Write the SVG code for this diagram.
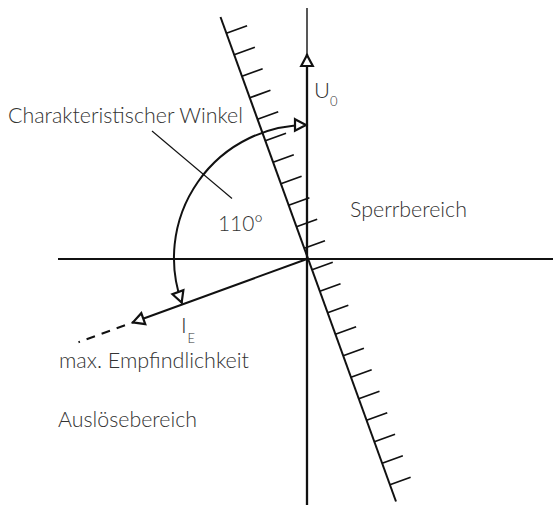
<svg xmlns="http://www.w3.org/2000/svg" width="553" height="505" viewBox="0 0 553 505">
<style>
  .ln { fill: none; stroke: #111; stroke-linecap: butt; }
  .ax { stroke-width: 2; }
  .thin { stroke-width: 1.1; }
  .tk { stroke-width: 1.8; }
  .lbl { font-family: Lato, "Open Sans", "DejaVu Sans", sans-serif; font-weight: 300; fill: #333; font-size: 22px; }
  .sub { font-size: 13px; }
</style>
<defs>
  <marker id="tri" markerUnits="userSpaceOnUse" markerWidth="28" markerHeight="28" viewBox="-20 -14 28 28" refX="0" refY="0" orient="auto" overflow="visible">
    <path d="M-12,-5.8 L-1,0 L-12,5.8 Z" fill="#fff" stroke="#111" stroke-width="2.2" stroke-linejoin="miter"/>
  </marker>
  <marker id="triS" markerUnits="userSpaceOnUse" markerWidth="28" markerHeight="28" viewBox="-20 -14 28 28" refX="0" refY="0" orient="auto-start-reverse" overflow="visible">
    <path d="M-12,-5.8 L-1,0 L-12,5.8 Z" fill="#fff" stroke="#111" stroke-width="2.2" stroke-linejoin="miter"/>
  </marker>
</defs>
<rect width="553" height="505" fill="#fff"/>

<g id="connectors">
  <path id="axis-h" class="ln ax" d="M58,259 H553"/>
  <path id="axis-v-top" class="ln" stroke-width="1.4" d="M307,64 V8"/>
  <path id="axis-v" class="ln" stroke-width="2.3" d="M307,505 V54" marker-end="url(#tri)"/>
  <path id="boundary" class="ln ax" d="M220.5,17 L396,501.5"/>
  <path id="hatch" class="ln tk" d="M226.39,33.25 l20.7,-7.5 M234.17,54.75 l20.7,-7.5 M241.96,76.25 l20.7,-7.5 M249.75,97.75 l20.7,-7.5 M257.54,119.25 l20.7,-7.5 M265.33,140.75 l20.7,-7.5 M273.11,162.25 l20.7,-7.5 M280.9,183.75 l20.7,-7.5 M288.69,205.25 l20.7,-7.5 M296.48,226.75 l20.7,-7.5 M304.27,248.25 l20.7,-7.5 M312.05,269.75 l20.7,-7.5 M319.84,291.25 l20.7,-7.5 M327.63,312.75 l20.7,-7.5 M335.42,334.25 l20.7,-7.5 M343.21,355.75 l20.7,-7.5 M350.99,377.25 l20.7,-7.5 M358.78,398.75 l20.7,-7.5 M366.57,420.25 l20.7,-7.5 M374.36,441.75 l20.7,-7.5 M382.15,463.25 l20.7,-7.5 M389.93,484.75 l20.7,-7.5"/>
  <path id="ie" class="ln ax" d="M307,259 L132,322.7" marker-end="url(#tri)"/>
  <path id="ie-ext" class="ln ax" stroke-dasharray="8.9 7.1" d="M125,325.2 L78.5,342.2"/>
  <path id="arc" class="ln ax" d="M307,125 A133,133 0 0 0 182,303.5" marker-start="url(#triS)" marker-end="url(#tri)"/>
  <path id="leader" class="ln thin" d="M152,131 L232,198.5"/>
</g>

<g id="label-winkel"><text class="lbl" x="8" y="123" textLength="235" lengthAdjust="spacingAndGlyphs">Charakteristischer Winkel</text></g>
<g id="label-u0"><text class="lbl" x="314" y="98">U<tspan class="sub" x="330" y="106">0</tspan></text></g>
<g id="label-sperr"><text class="lbl" x="350" y="216.5" textLength="117" lengthAdjust="spacingAndGlyphs">Sperrbereich</text></g>
<g id="label-angle"><text class="lbl" x="218" y="231" textLength="45" lengthAdjust="spacingAndGlyphs">110°</text></g>
<g id="label-ie"><text class="lbl" x="181" y="333">I<tspan class="sub" x="187.5" y="342.5">E</tspan></text></g>
<g id="label-max"><text class="lbl" x="59" y="368" textLength="190" lengthAdjust="spacingAndGlyphs">max. Empfindlichkeit</text></g>
<g id="label-ausl"><text class="lbl" x="58" y="426.5" textLength="139" lengthAdjust="spacingAndGlyphs">Auslösebereich</text></g>
</svg>
